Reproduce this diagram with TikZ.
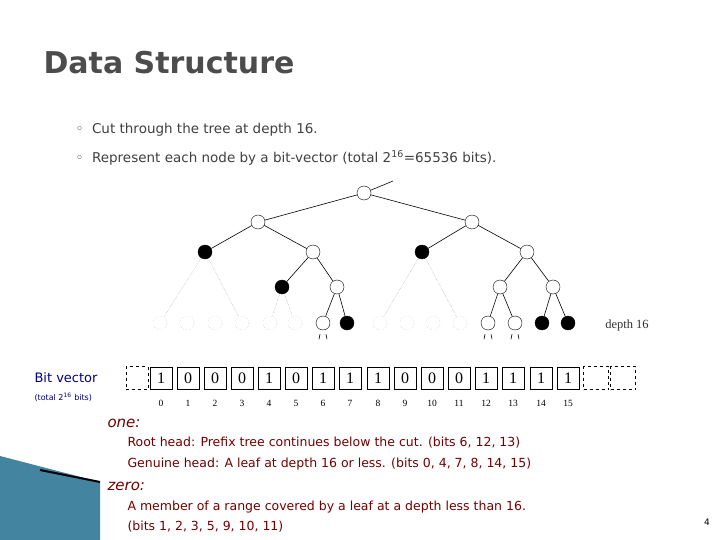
\documentclass[tikz,border=0pt]{standalone}
\usepackage{fontspec}
\setmainfont{DejaVu Sans}
\newfontfamily\treeserif{Liberation Serif}
\begin{document}
\begin{tikzpicture}[x=1pt,y=-1pt,
  nd/.style={circle,draw,inner sep=0pt,minimum size=14pt,fill=white},
  bk/.style={nd,fill=black},
  gh/.style={nd,draw=gray!70,dotted},
  edge/.style={line width=0.6pt},
  ded/.style={densely dotted,gray!80},
  bitbox/.style={draw,minimum width=22pt,minimum height=22pt,inner sep=0pt,font=\treeserif\fontsize{16}{16}\selectfont},
  dbox/.style={draw,dashed,minimum width=25pt,minimum height=23pt,inner sep=0pt},
  idx/.style={font=\treeserif\fontsize{9.5}{9.5}\selectfont},
  body/.style={anchor=west,text=black!75,font=\fontsize{13.5}{15}\selectfont},
  red/.style={anchor=west,text=red!45!black,font=\fontsize{12.5}{14}\selectfont}]
\useasboundingbox (0,0) rectangle (720,540);
\fill[white] (0,0) rectangle (720,540);
% decoration
\fill[cyan!60!black] (0,456) -- (100,482) -- (100,540) -- (0,540) -- cycle;
\draw[line width=2pt] (40,470) -- (100,482);
\node[anchor=west,text=black!70,font=\bfseries\fontsize{30}{32}\selectfont] (title) at (40,63) {Data Structure};
\node[body] (b1) at (72,130) {◦ \ Cut through the tree at depth 16.};
\node[body] (b2) at (72,158) {◦ \ Represent each node by a bit-vector (total 2\textsuperscript{16}=65536 bits).};
% tree
\node[nd] (r) at (364,193) {};
\coordinate (up) at (393,181);
\node[nd] (a) at (258,222) {};
\node[nd] (b) at (472,222) {};
\node[bk] (c1) at (205,252) {};
\node[nd] (c2) at (313,252) {};
\node[bk] (c3) at (422,252) {};
\node[nd] (c4) at (527,252) {};
\node[bk] (d1) at (282,287) {};
\node[nd] (d2) at (337,287) {};
\node[nd] (d3) at (500,287) {};
\node[nd] (d4) at (553,287) {};
\foreach \i/\x in {0/160,1/187,2/215,3/242,4/270,5/295,8/380,9/407,10/433,11/460}
  \node[gh] (l\i) at (\x,323) {};
\node[nd] (l6) at (323,323) {};
\node[bk] (l7) at (347,323) {};
\node[nd] (l12) at (488,323) {};
\node[nd] (l13) at (515,323) {};
\node[bk] (l14) at (542,323) {};
\node[bk] (l15) at (568,323) {};
\draw[edge] (r) -- (up);
\draw[edge] (r) -- (a); \draw[edge] (r) -- (b);
\draw[edge] (a) -- (c1); \draw[edge] (a) -- (c2);
\draw[edge] (b) -- (c3); \draw[edge] (b) -- (c4);
\draw[edge] (c2) -- (d1); \draw[edge] (c2) -- (d2);
\draw[edge] (c4) -- (d3); \draw[edge] (c4) -- (d4);
\draw[edge] (d2) -- (l6); \draw[edge] (d2) -- (l7);
\draw[edge] (d3) -- (l12); \draw[edge] (d3) -- (l13);
\draw[edge] (d4) -- (l14); \draw[edge] (d4) -- (l15);
\draw[ded] (c1) -- (l0); \draw[ded] (c1) -- (l3);
\draw[ded] (d1) -- (l4); \draw[ded] (d1) -- (l5);
\draw[ded] (c3) -- (l8); \draw[ded] (c3) -- (l11);
\foreach \n in {l6,l12,l13}{
  \draw[edge] ([xshift=-3pt,yshift=-4pt]\n.south) -- ([xshift=-4pt,yshift=-9pt]\n.south);
  \draw[edge] ([xshift=3pt,yshift=-4pt]\n.south) -- ([xshift=4pt,yshift=-9pt]\n.south);
}
\node[font=\treeserif\fontsize{12.5}{12}\selectfont,text=black!80] (dep) at (627,325) {depth 16};
% bit vector
\node[dbox,minimum width=22pt] (bl) at (137,378) {};
\foreach \i/\x/\v in {0/161/1,1/188/0,2/215/0,3/242/0,4/269/1,5/296/0,6/323/1,7/350/1,8/378/1,9/405/0,10/432/0,11/459/0,12/486/1,13/513/1,14/541/1,15/568/1}{
  \node[bitbox] (bb\i) at (\x,378) {\v};
  \node[idx] (ix\i) at (\x,403) {\i};
}
\node[dbox] (bd1) at (596,378) {};
\node[dbox] (bd2) at (623,378) {};
\node[anchor=west,text=blue!50!black,font=\fontsize{13}{14}\selectfont] (bv) at (31,378) {Bit vector};
\node[anchor=west,text=blue!50!black,font=\fontsize{8}{9}\selectfont] (tb) at (31,397) {(total 2\textsuperscript{16} bits)};
% explanation
\node[red,font=\itshape\fontsize{15}{15}\selectfont] (one) at (104,423) {one:};
\node[red] (r1) at (124,443) {Root head: Prefix tree continues below the cut. (bits 6, 12, 13)};
\node[red] (r2) at (124,464) {Genuine head: A leaf at depth 16 or less. (bits 0, 4, 7, 8, 14, 15)};
\node[red,font=\itshape\fontsize{15}{15}\selectfont] (zero) at (104,486) {zero:};
\node[red] (z1) at (124,507) {A member of a range covered by a leaf at a depth less than 16.};
\node[red] (z2) at (124,527) {(bits 1, 2, 3, 5, 9, 10, 11)};
\node[font=\fontsize{9}{9}\selectfont] (pg) at (707,522) {4};
\end{tikzpicture}
\end{document}
